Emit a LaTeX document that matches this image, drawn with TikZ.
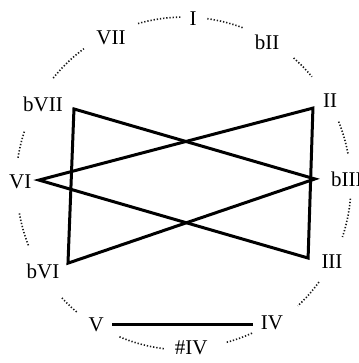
\documentclass[tikz,border=0pt]{standalone}
\usepackage{fontspec}
\setmainfont{Liberation Serif}
\usetikzlibrary{positioning}

\begin{document}
\begin{tikzpicture}[
    font=\fontsize{21}{25}\selectfont,
    deg/.style={inner sep=0pt, align=center},
    chord/.style={draw, line width=3pt, line join=miter},
    dots/.style={line width=1.6pt, dash pattern=on 1.3pt off 1.9pt, black!90}
]
\useasboundingbox (-6.47,-6.29) rectangle (6.12,6.47);
\coordinate (ctr) at (0,0);

% scale degrees round the circle
\node[deg] (I) at (0.32,5.80) {I};
\node[deg] (bII) at (2.92,4.99) {bII};
\node[deg] (II) at (5.13,2.92) {II};
\node[deg] (bIII) at (5.72,0.18) {bIII};
\node[deg] (III) at (5.20,-2.74) {III};
\node[deg] (IV) at (3.09,-4.89) {IV};
\node[deg] (sIV) at (0.25,-5.76) {\#IV};
\node[deg] (V) at (-3.09,-4.96) {V};
\node[deg] (bVI) at (-4.96,-3.06) {bVI};
\node[deg] (VI) at (-5.76,0.07) {VI};
\node[deg] (bVII) at (-4.96,2.81) {bVII};
\node[deg] (VII) at (-2.57,5.13) {VII};

% dotted circle between the degrees
\draw[dots] (ctr) ++(106:5.87) arc[start angle=106, end angle=91, radius=5.87];
\draw[dots] (ctr) ++(82:5.87) arc[start angle=82, end angle=69, radius=5.87];
\draw[dots] (ctr) ++(49:5.87) arc[start angle=49, end angle=40, radius=5.87];
\draw[dots] (ctr) ++(22:5.86) arc[start angle=22, end angle=10, radius=5.86];
\draw[dots] (ctr) ++(-5:5.87) arc[start angle=-5, end angle=-18.5, radius=5.87];
\draw[dots] (ctr) ++(-36:5.86) arc[start angle=-36, end angle=-47, radius=5.86];
\draw[dots] (ctr) ++(-65.5:5.76) arc[start angle=-65.5, end angle=-75.5, radius=5.76];
\draw[dots] (ctr) ++(-97:5.83) arc[start angle=-97, end angle=-113, radius=5.83];
\draw[dots] (ctr) ++(-130:5.87) arc[start angle=-130, end angle=-137, radius=5.87];
\draw[dots] (ctr) ++(-158.5:5.88) arc[start angle=-158.5, end angle=-170, radius=5.88];
\draw[dots] (ctr) ++(171:5.91) arc[start angle=171, end angle=161.5, radius=5.91];
\draw[dots] (ctr) ++(141:5.92) arc[start angle=141, end angle=126.5, radius=5.92];

% ends of the chords, next to their degrees
\coordinate (pbVII) at (-3.87,2.64);
\coordinate (pVI) at (-5.10,0.14);
\coordinate (pII) at (4.53,2.67);
\coordinate (pbIII) at (4.60,0.18);
\coordinate (pIII) at (4.36,-2.60);
\coordinate (pbVI) at (-4.08,-2.78);
\coordinate (pV) at (-2.53,-4.92);
\coordinate (pIV) at (2.43,-4.92);

\draw[chord] (pbVII) -- (pbIII) -- (pbVI) -- cycle;
\draw[chord] (pVI) -- (pII) -- (pIII) -- cycle;
\draw[chord] (pV) -- (pIV);
\end{tikzpicture}
\end{document}
